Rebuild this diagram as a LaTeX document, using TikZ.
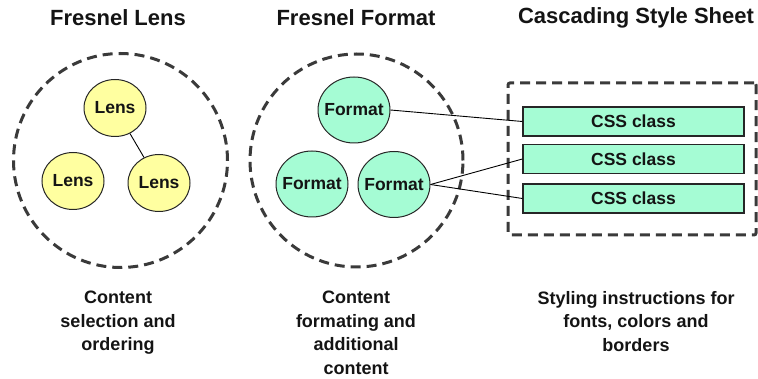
\documentclass[tikz,border=0pt]{standalone}
\usepackage{fontspec}
\setmainfont{Liberation Sans}
\usetikzlibrary{shapes.geometric}
\definecolor{lensfill}{RGB}{255,255,160}
\definecolor{fmtfill}{RGB}{165,252,212}
\definecolor{dashcol}{RGB}{58,58,58}
\definecolor{txt}{RGB}{20,20,20}
\newcommand{\zw}[1]{\makebox[0pt]{#1}}
\tikzset{
  title/.style={font=\bfseries\fontsize{22}{26}\selectfont, text=txt, inner sep=0pt},
  caption/.style={font=\bfseries\fontsize{18}{23.5}\selectfont, text=txt, align=center, inner sep=0pt, anchor=north},
  group/.style={draw=dashcol, line width=3pt, dash pattern=on 10pt off 6pt},
  lensnode/.style={ellipse, draw=black!85, line width=1pt, fill=lensfill, minimum width=62pt, minimum height=57pt, inner sep=0pt, font=\bfseries\fontsize{17.5}{20}\selectfont, text=txt},
  fmtnode/.style={ellipse, draw=black!85, line width=1pt, fill=fmtfill, minimum width=72pt, minimum height=66pt, inner sep=0pt, font=\bfseries\fontsize{17.5}{20}\selectfont, text=txt},
  cssnode/.style={rectangle, draw=black!85, line width=1.2pt, fill=fmtfill, minimum width=221pt, minimum height=29pt, inner sep=0pt, font=\bfseries\fontsize{17.5}{20}\selectfont, text=txt},
  link/.style={draw=black, line width=0.9pt}
}
\begin{document}
\begin{tikzpicture}[x=1pt,y=-1pt]
\useasboundingbox (0,0) rectangle (758,379);
% titles
\node[title] (t1) at (118,18) {Fresnel Lens};
\node[title] (t2) at (356,18) {Fresnel Format};
\node[title] (t3) at (636,18) {Cascading Style Sheet};
% group outlines
\node[group, circle, minimum size=214pt, inner sep=0pt] (g1) at (120.5,160.5) {};
\node[group, circle, minimum size=213pt, inner sep=0pt] (g2) at (356.5,160.5) {};
\node[group, rectangle, rounded corners=2pt, minimum width=248pt, minimum height=152pt, inner sep=0pt] (g3) at (632,159) {};
% lenses
\node[lensnode] (lt) at (115,108) {\zw{Lens}};
\node[lensnode] (ll) at (73,181) {\zw{Lens}};
\node[lensnode] (lr) at (159,183) {\zw{Lens}};
% formats
\node[fmtnode] (ft) at (354,110) {\zw{Format}};
\node[fmtnode] (fl) at (312,184) {\zw{Format}};
\node[fmtnode] (fr) at (394,184.5) {\zw{Format}};
% css classes
\node[cssnode] (c1) at (633.5,121.5) {CSS class};
\node[cssnode] (c2) at (633.5,159) {CSS class};
\node[cssnode] (c3) at (633.5,198.5) {CSS class};
% connectors
\draw[link] (lt) -- (lr);
\draw[link] (ft.east) -- (c1.west);
\draw[link] (fr.east) -- (c2.west);
\draw[link] (fr.east) -- (c3.west);
% captions
\node[caption] (d1) at (118,291) {Content\\selection and\\ordering};
\node[caption] (d2) at (356,291) {Content\\formating and\\additional\\content};
\node[caption] (d3) at (636,291) {Styling instructions for\\fonts, colors and\\borders};
\end{tikzpicture}
\end{document}
